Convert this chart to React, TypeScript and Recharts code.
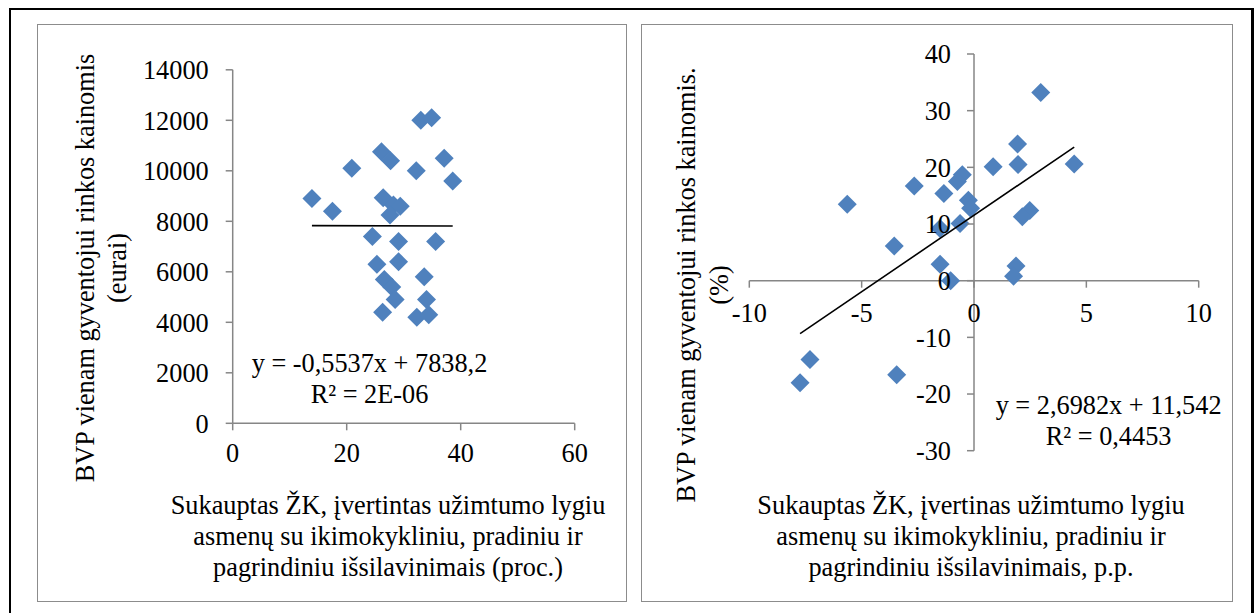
import React from "react";
import { ScatterChart, Scatter, XAxis, YAxis, ReferenceLine } from "recharts";

// Left: BVP (eurai) vs ŽK (proc.)
const leftX = [13.9, 17.5, 20.9, 26.1, 27.7, 32.2, 33.0, 34.9, 37.1, 38.6, 26.4, 28.2, 29.4, 27.6, 24.5, 29.1, 35.6, 25.3, 29.1, 26.6, 27.9, 33.6, 28.5, 34.0, 26.3, 32.3, 34.4];
const leftY = [8900, 8400, 10100, 10750, 10400, 10000, 12000, 12100, 10500, 9600, 8930, 8650, 8600, 8250, 7400, 7200, 7200, 6300, 6400, 5700, 5400, 5800, 4900, 4900, 4400, 4200, 4300];
const leftSlope = -0.5537;
const leftIntercept = 7838.2;
const leftXTicks = [0, 20, 40, 60];
const leftYTicks = [0, 2000, 4000, 6000, 8000, 10000, 12000, 14000];
const leftEquation = ["y = -0,5537x + 7838,2", "R² = 2E-06"];
const leftYTitle = ["BVP vienam gyventojui rinkos kainomis", "(eurai)"];
const leftXTitle = [
  "Sukauptas ŽK, įvertintas užimtumo lygiu",
  "asmenų su ikimokykliniu, pradiniu ir",
  "pagrindiniu išsilavinimais (proc.)",
];

// Right: BVP pokytis (%) vs ŽK pokytis (p.p.)
const rightX = [2.97, 1.94, 0.85, 1.96, 4.46, -2.66, -0.52, -0.74, -1.34, -5.64, -0.25, -0.15, 2.48, 2.15, -0.62, -1.51, -3.55, -1.51, -1.04, 1.87, 1.76, -7.3, -7.74, -3.44];
const rightY = [33.2, 24.1, 20.1, 20.5, 20.6, 16.7, 18.7, 17.5, 15.4, 13.5, 14.2, 12.8, 12.4, 11.3, 10.1, 9.2, 6.1, 2.9, 0, 2.6, 0.8, -13.9, -18.0, -16.6];
const rightSlope = 2.6982;
const rightIntercept = 11.542;
const rightXTicks = [-10, -5, 0, 5, 10];
const rightYTicks = [-30, -20, -10, 0, 10, 20, 30, 40];
const rightEquation = ["y = 2,6982x + 11,542", "R² = 0,4453"];
const rightYTitle = ["BVP vienam gyventojui rinkos kainomis.", "(%)"];
const rightXTitle = [
  "Sukauptas ŽK, įvertinas užimtumo lygiu",
  "asmenų su ikimokykliniu, pradiniu ir",
  "pagrindiniu išsilavinimais, p.p.",
];

const FONT = "'Liberation Serif', 'Times New Roman', serif";
const FS = 26.3;
const AXIS = "#868686";
const BLUE = "#4F81BD";

const toPoints = (xs: number[], ys: number[]) => xs.map((x, i) => ({ x, y: ys[i] }));
const trend = (xs: number[], slope: number, b: number) => {
  const lo = Math.min(...xs);
  const hi = Math.max(...xs);
  return [
    { x: lo, y: slope * lo + b },
    { x: hi, y: slope * hi + b },
  ];
};

const Diamond = (props: any) => {
  const { cx, cy } = props;
  const r = 9.5;
  return (
    <polygon
      points={`${cx},${cy - r} ${cx + r},${cy} ${cx},${cy + r} ${cx - r},${cy}`}
      fill={BLUE}
    />
  );
};

const NoDot = () => <g />;

// right chart geometry
const RW = 585;
const RH = 440;
const R_MARGIN = { top: 24, right: 31.3, bottom: 9.3, left: 44.3 };
const R_YAXIS_W = 60;
const R_XAXIS_H = 10;
const R_PLOT_W = RW - R_MARGIN.left - R_YAXIS_W - R_MARGIN.right;
const R_PLOT_H = RH - R_MARGIN.top - R_MARGIN.bottom - R_XAXIS_H;
const rxDom = [rightXTicks[0], rightXTicks[rightXTicks.length - 1]];
const ryDom = [rightYTicks[0], rightYTicks[rightYTicks.length - 1]];
const zeroFromBottom = (R_PLOT_H * (0 - ryDom[0])) / (ryDom[1] - ryDom[0]);
const zeroFromLeft = (R_PLOT_W * (0 - rxDom[0])) / (rxDom[1] - rxDom[0]);

const RightXTick = (props: any) => {
  const { x, y, payload } = props;
  const y0 = y - zeroFromBottom;
  return (
    <g>
      <line x1={x} x2={x} y1={y0} y2={y0 + 7} stroke={AXIS} strokeWidth={1.5} />
      <text x={x} y={y0 + 41} textAnchor="middle" fill="#000" fontSize={FS} fontFamily={FONT}>
        {payload.value}
      </text>
    </g>
  );
};

const RightYTick = (props: any) => {
  const { x, y, payload } = props;
  const x0 = x + zeroFromLeft;
  return (
    <g>
      <line x1={x0 - 7} x2={x0} y1={y} y2={y} stroke={AXIS} strokeWidth={1.5} />
      <text x={x0 - 23} y={y} dy="0.355em" textAnchor="end" fill="#000" fontSize={FS} fontFamily={FONT}>
        {payload.value}
      </text>
    </g>
  );
};

const abs = (left: number, top: number, extra: React.CSSProperties = {}): React.CSSProperties => ({
  position: "absolute",
  left,
  top,
  ...extra,
});

const textBlock: React.CSSProperties = {
  fontFamily: FONT,
  fontSize: FS,
  color: "#000",
  whiteSpace: "nowrap",
  textAlign: "center",
};

function CenteredLines({ cx, top, lines, lh }: { cx: number; top: number; lines: string[]; lh: number }) {
  return (
    <div style={{ ...abs(cx, top), ...textBlock, lineHeight: `${lh}px`, transform: "translateX(-50%)" }}>
      {lines.map((l) => (
        <div key={l}>{l}</div>
      ))}
    </div>
  );
}

function RotatedTitle({ cx, cy, lines, lh }: { cx: number; cy: number; lines: string[]; lh: number }) {
  return (
    <div
      style={{
        ...abs(cx, cy),
        ...textBlock,
        lineHeight: `${lh}px`,
        transform: "translate(-50%, -50%) rotate(-90deg)",
      }}
    >
      {lines.map((l) => (
        <div key={l}>{l}</div>
      ))}
    </div>
  );
}

export default function App() {
  const leftData = toPoints(leftX, leftY);
  const rightData = toPoints(rightX, rightY);
  const leftTrend = trend(leftX, leftSlope, leftIntercept);
  const rightTrend = trend(rightX, rightSlope, rightIntercept);
  const tick = { fill: "#000", fontSize: FS, fontFamily: FONT };

  return (
    <div style={{ position: "absolute", left: 0, top: 0, width: 1258, height: 613, overflow: "hidden", background: "#fff" }}>
      {/* outer frame */}
      <div style={abs(9, 8, { width: 1245, height: 640, borderTop: "2px solid #000", borderLeft: "2.5px solid #000", borderRight: "3px solid #000", boxSizing: "border-box" })} />
      {/* panel frames */}
      <div style={abs(36.7, 24.3, { width: 590, height: 577.4, border: "1.7px solid #8c8c8c", boxSizing: "border-box" })} />
      <div style={abs(641, 24.3, { width: 592.3, height: 577.4, border: "1.7px solid #8c8c8c", boxSizing: "border-box" })} />

      {/* left chart */}
      <div style={abs(40, 30)}>
        <ScatterChart width={580} height={440} margin={{ top: 39.8, right: 45.3, bottom: 6.7, left: 92.7 }}>
          <XAxis
            type="number"
            dataKey="x"
            domain={[0, 60]}
            ticks={leftXTicks}
            interval={0}
            height={40}
            stroke={AXIS}
            strokeWidth={1.5}
            tickSize={7}
            tickMargin={13.3}
            tick={tick}
          />
          <YAxis
            type="number"
            dataKey="y"
            domain={[0, 14000]}
            ticks={leftYTicks}
            interval={0}
            width={100}
            stroke={AXIS}
            strokeWidth={1.5}
            tickSize={7}
            tickMargin={17}
            tick={tick}
          />
          <Scatter data={leftData} shape={<Diamond />} isAnimationActive={false} />
          <Scatter
            data={leftTrend}
            shape={<NoDot />}
            line={{ stroke: "#000", strokeWidth: 1.6 }}
            isAnimationActive={false}
          />
        </ScatterChart>
      </div>

      {/* right chart */}
      <div style={abs(645, 30)}>
        <ScatterChart width={RW} height={RH} margin={R_MARGIN}>
          <XAxis
            type="number"
            dataKey="x"
            domain={rxDom}
            ticks={rightXTicks}
            interval={0}
            height={R_XAXIS_H}
            axisLine={false}
            tickLine={false}
            tickSize={0}
            tickMargin={0}
            tick={<RightXTick />}
          />
          <YAxis
            type="number"
            dataKey="y"
            domain={ryDom}
            ticks={rightYTicks}
            interval={0}
            width={R_YAXIS_W}
            axisLine={false}
            tickLine={false}
            tickSize={0}
            tickMargin={0}
            tick={<RightYTick />}
          />
          <ReferenceLine y={0} stroke={AXIS} strokeWidth={1.5} />
          <ReferenceLine x={0} stroke={AXIS} strokeWidth={1.5} />
          <Scatter data={rightData} shape={<Diamond />} isAnimationActive={false} />
          <Scatter
            data={rightTrend}
            shape={<NoDot />}
            line={{ stroke: "#000", strokeWidth: 1.6 }}
            isAnimationActive={false}
          />
        </ScatterChart>
      </div>

      {/* titles and equations */}
      <RotatedTitle cx={102.2} cy={268} lines={leftYTitle} lh={31.7} />
      <RotatedTitle cx={703.5} cy={285} lines={rightYTitle} lh={32.6} />
      <CenteredLines cx={388} top={489.6} lines={leftXTitle} lh={31} />
      <CenteredLines cx={971} top={489.6} lines={rightXTitle} lh={31} />
      <CenteredLines cx={369.5} top={349.4} lines={leftEquation} lh={30.5} />
      <CenteredLines cx={1108.6} top={391.3} lines={rightEquation} lh={30.5} />
    </div>
  );
}
